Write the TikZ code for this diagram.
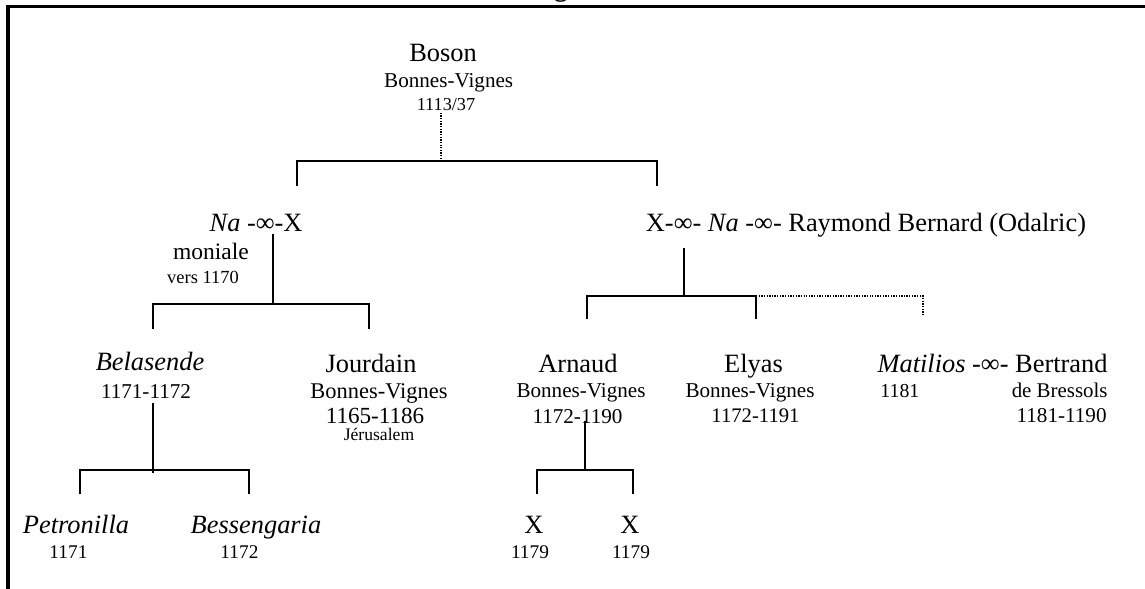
\documentclass[tikz,border=0pt]{standalone}
\usepackage{fontspec}
\setmainfont{Liberation Serif}

\begin{document}
\begin{tikzpicture}[x=0.4545pt,y=-0.4545pt,
  person/.style={inner sep=0pt,anchor=base,font=\fontsize{12}{14}\selectfont},
  datum/.style={inner sep=0pt,anchor=base,font=\fontsize{#1}{11}\selectfont},
  datum/.default=9.6,
  line/.style={line width=0.9pt},
  maybe/.style={line width=0.7pt,dash pattern=on 0.6pt off 0.6pt},
]
  \useasboundingbox (0,0) rectangle (1145,588);

  % Frame and cut title
  \draw[line width=1.4pt] (8,590) -- (8,6.5) -- (1150,6.5);
  \node[inner sep=0pt,anchor=base,font=\bfseries\fontsize{12}{14}\selectfont] (title) at (561,-3.5) {g};

  % Boson
  \node[person] (boson) at (443,61.7) {Boson};
  \node[datum] (bosonpl) at (448.7,87) {Bonnes-Vignes};
  \node[datum=8.3] (bosond) at (446,110) {1113/37};

  % Second generation
  \node[person,anchor=base east] (nax) at (303,231) {\textit{Na} -∞-X};
  \node[datum=10.7] (moniale) at (211,259) {moniale};
  \node[datum=8.4] (vers) at (203,283) {vers 1170};
  \node[person] (xna) at (866,231) {X-∞- \textit{Na} -∞- Raymond Bernard (Odalric)};

  % Children of Na and X
  \node[person] (belasende) at (150,370) {\textit{Belasende}};
  \node[datum] (belasended) at (146,398) {1171-1172};
  \node[person] (jourdain) at (371,372) {Jourdain};
  \node[datum=10.2] (jourdainpl) at (379,398) {Bonnes-Vignes};
  \node[datum=10.5] (jourdaind) at (375,423) {1165-1186};
  \node[datum=8] (jerusalem) at (379,440) {Jérusalem};

  % Children of Na and Raymond Bernard
  \node[person] (arnaud) at (578,372) {Arnaud};
  \node[datum] (arnaudpl) at (581,397) {Bonnes-Vignes};
  \node[datum] (arnaudd) at (577.5,423) {1172-1190};
  \node[person] (elyas) at (753.5,372) {Elyas};
  \node[datum] (elyaspl) at (750,397) {Bonnes-Vignes};
  \node[datum=9.4] (elyasd) at (755.5,422) {1172-1191};
  \node[person,anchor=base east] (matilios) at (1108,372) {\textit{Matilios} -∞- Bertrand};
  \node[datum=9,anchor=base west] (matiliosd) at (880,397) {1181};
  \node[datum=9.5,anchor=base east] (bertrandpl) at (1108,397) {de Bressols};
  \node[datum,anchor=base east] (bertrandd) at (1107,422) {1181-1190};

  % Fourth generation
  \node[person] (petronilla) at (76,533) {\textit{Petronilla}};
  \node[datum=8.8] (petronillad) at (68.5,558) {1171};
  \node[person] (bessengaria) at (256,533) {\textit{Bessengaria}};
  \node[datum=8.8] (bessengariad) at (239.5,558) {1172};
  \node[person] (xa) at (534,533) {X};
  \node[datum=8.8] (xad) at (530,558) {1179};
  \node[person] (xb) at (630,533) {X};
  \node[datum=8.8] (xbd) at (631,558) {1179};

  % Bars
  \coordinate (j1) at (441,161);
  \coordinate (j1l) at (297,186);
  \coordinate (j1r) at (657,186);
  \draw[maybe] ([yshift=-1pt]bosond.south -| j1) -- (j1);
  \draw[line] (j1l) |- (j1) -| (j1r);

  \coordinate (j2) at (273,304);
  \coordinate (j2l) at (153,329);
  \coordinate (j2r) at (369,329);
  \draw[line] ([yshift=-1pt]nax.south -| j2) -- (j2);
  \draw[line] (j2l) |- (j2) -| (j2r);

  \coordinate (j3) at (153,470);
  \coordinate (j3l) at (80,494);
  \coordinate (j3r) at (249,494);
  \draw[line] ([yshift=-2pt]belasended.south -| j3) -- ([yshift=-1.4pt]j3);
  \draw[line] (j3l) |- (j3) -| (j3r);

  \coordinate (j4) at (684,296);
  \coordinate (j4l) at (587,319);
  \coordinate (j4r) at (756,319);
  \coordinate (j4m) at (923,316);
  \draw[line] ([yshift=-5pt]xna.south -| j4) -- (j4);
  \draw[line] (j4l) |- (j4) -| (j4r);
  \draw[maybe] (j4r |- j4) -| (j4m);

  \coordinate (j5) at (585,470);
  \coordinate (j5l) at (537,494);
  \coordinate (j5r) at (633,494);
  \draw[line] ([yshift=1.4pt]arnaudd.south -| j5) -- (j5);
  \draw[line] (j5l) |- (j5) -| (j5r);
\end{tikzpicture}
\end{document}
